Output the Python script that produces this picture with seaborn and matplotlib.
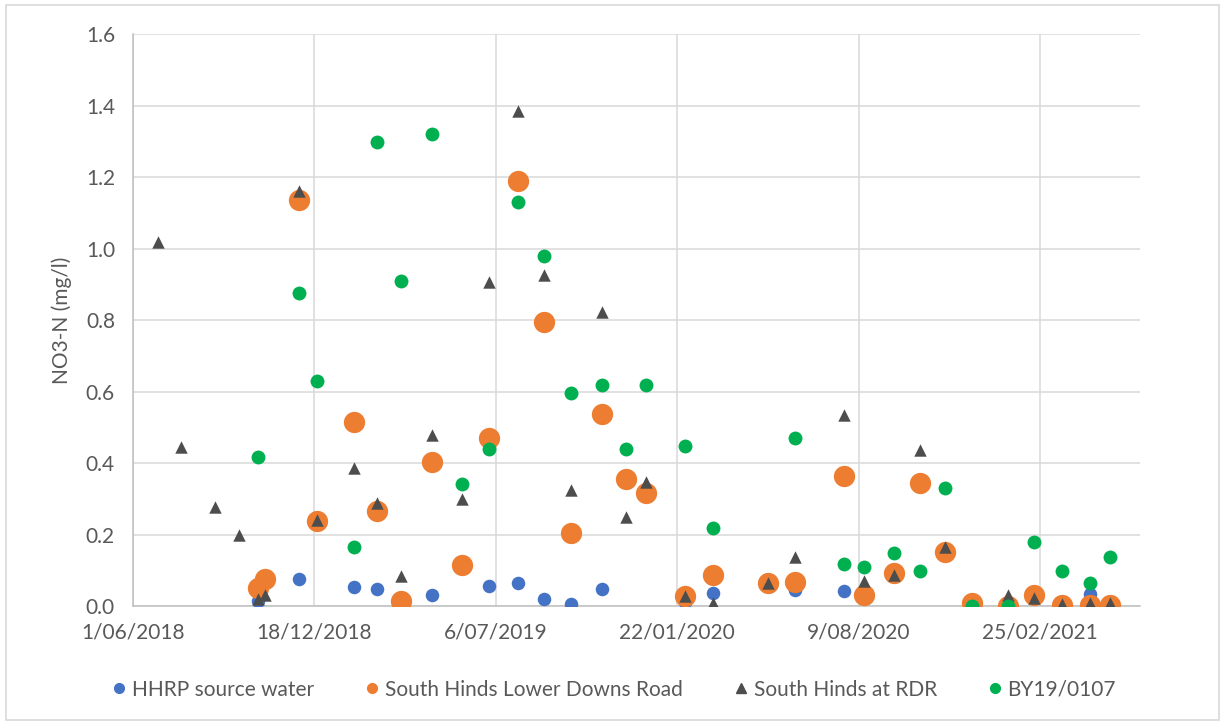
import pandas as pd
import numpy as np
import matplotlib
matplotlib.use("Agg")
import matplotlib.pyplot as plt
from matplotlib.lines import Line2D
from matplotlib.patches import Rectangle
import seaborn as sns

# sampling dates and NO3-N (mg/l) values
hhrp_dates = ["2018-10-17", "2018-12-01", "2019-01-31", "2019-02-25", "2019-04-27",
              "2019-06-28", "2019-07-30", "2019-08-28", "2019-09-27", "2019-10-31",
              "2020-01-31", "2020-03-01", "2020-05-31", "2020-07-24", "2021-04-21"]
hhrp_vals = [0.015, 0.075, 0.054, 0.047, 0.032, 0.056, 0.064, 0.020, 0.006, 0.047,
             0.011, 0.036, 0.045, 0.042, 0.035]

ldr_dates = ["2018-10-17", "2018-10-25", "2018-12-01", "2018-12-21", "2019-01-31",
             "2019-02-25", "2019-03-23", "2019-04-27", "2019-05-30", "2019-06-28",
             "2019-07-30", "2019-08-28", "2019-09-27", "2019-10-31", "2019-11-26",
             "2019-12-19", "2020-01-31", "2020-03-01", "2020-05-01", "2020-05-31",
             "2020-07-24", "2020-08-15", "2020-09-17", "2020-10-16", "2020-11-12",
             "2020-12-12", "2021-01-21", "2021-02-18", "2021-03-21", "2021-04-21",
             "2021-05-13"]
ldr_vals = [0.052, 0.075, 1.137, 0.238, 0.516, 0.267, 0.015, 0.404, 0.115, 0.470,
            1.188, 0.796, 0.205, 0.538, 0.356, 0.316, 0.028, 0.087, 0.065, 0.067,
            0.365, 0.032, 0.092, 0.344, 0.152, 0.008, 0.000, 0.030, 0.003, 0.003,
            0.003]

rdr_dates = ["2018-06-28", "2018-07-24", "2018-08-30", "2018-09-26", "2018-10-17",
             "2018-10-25", "2018-12-01", "2018-12-21", "2019-01-31", "2019-02-25",
             "2019-03-23", "2019-04-27", "2019-05-30", "2019-06-28", "2019-07-30",
             "2019-08-28", "2019-09-27", "2019-10-31", "2019-11-26", "2019-12-19",
             "2020-01-31", "2020-03-01", "2020-05-01", "2020-05-31", "2020-07-24",
             "2020-08-15", "2020-09-17", "2020-10-16", "2020-11-12", "2021-01-21",
             "2021-02-18", "2021-03-21", "2021-04-21", "2021-05-13"]
rdr_vals = [1.020, 0.446, 0.277, 0.198, 0.020, 0.030, 1.160, 0.240, 0.387, 0.290,
            0.084, 0.479, 0.300, 0.908, 1.384, 0.925, 0.325, 0.824, 0.249, 0.348,
            0.028, 0.010, 0.065, 0.137, 0.535, 0.070, 0.087, 0.437, 0.166, 0.030,
            0.022, 0.005, 0.008, 0.008]

by_dates = ["2018-10-17", "2018-12-01", "2018-12-21", "2019-01-31", "2019-02-25",
            "2019-03-23", "2019-04-27", "2019-05-30", "2019-06-28", "2019-07-30",
            "2019-08-28", "2019-09-27", "2019-10-31", "2019-11-26", "2019-12-19",
            "2020-01-31", "2020-03-01", "2020-05-31", "2020-07-24", "2020-08-15",
            "2020-09-17", "2020-10-16", "2020-11-12", "2020-12-12", "2021-01-21",
            "2021-02-18", "2021-03-21", "2021-04-21", "2021-05-13"]
by_vals = [0.417, 0.877, 0.630, 0.166, 1.297, 0.910, 1.320, 0.342, 0.440, 1.130,
           0.980, 0.597, 0.619, 0.440, 0.619, 0.448, 0.218, 0.470, 0.118, 0.110,
           0.150, 0.098, 0.330, 0.000, 0.000, 0.180, 0.098, 0.065, 0.137]

series_names = ["HHRP source water", "South Hinds Lower Downs Road",
                "South Hinds at RDR", "BY19/0107"]
tick_dates = ["2018-06-01", "2018-12-18", "2019-07-06", "2020-01-22",
              "2020-08-09", "2021-02-25"]

# series in Excel drawing order: blue, orange, grey, green
series = [
    (series_names[0], hhrp_dates, hhrp_vals, "#4472C4", "o", 95),
    (series_names[1], ldr_dates, ldr_vals, "#ED7D31", "o", 235),
    (series_names[2], rdr_dates, rdr_vals, "#4D4D4D", "^", 80),
    (series_names[3], by_dates, by_vals, "#00B050", "o", 100),
]

sns.set_style("white")
plt.rcParams["font.family"] = ["Lato", "DejaVu Sans"]

fig = plt.figure(figsize=(12.25, 7.26), dpi=100)
ax = fig.add_axes([0.1086, 0.165, 0.8220, 0.788])

for name, d, v, col, mk, sz in series:
    df = pd.DataFrame({"date": pd.to_datetime(d), "val": v})
    sns.scatterplot(data=df, x="date", y="val", ax=ax, color=col, marker=mk,
                    s=sz, linewidth=0, zorder=3)

ax.set_ylim(0, 1.6)
ax.set_yticks(np.arange(0, 1.61, 0.2))
ax.yaxis.set_major_formatter(matplotlib.ticker.FormatStrFormatter("%.1f"))
ax.set_xlim(pd.Timestamp("2018-06-01"), pd.Timestamp("2021-06-15"))
ticks = pd.to_datetime(tick_dates)
ax.set_xticks(ticks)
ax.set_xticklabels([f"{t.day}/{t.month:02d}/{t.year}" for t in ticks])

ax.grid(True, color="#D9D9D9", linewidth=1.1, zorder=0)
ax.set_axisbelow(True)
for s in ["top", "right"]:
    ax.spines[s].set_visible(False)
for s in ["left", "bottom"]:
    ax.spines[s].set_color("#BFBFBF")
    ax.spines[s].set_linewidth(1.1)
ax.tick_params(axis="both", length=0, labelsize=15, labelcolor="#595959")
ax.tick_params(axis="y", pad=13)
ax.tick_params(axis="x", pad=12)
ax.set_xlabel("")
ax.set_ylabel("NO3-N (mg/l)", fontsize=15, color="#595959", labelpad=10)

handles = [Line2D([], [], linestyle="", marker=mk, color=col, markersize=7 if mk == "o" else 6.5)
           for _, _, _, col, mk, _ in series]
fig.legend(handles, series_names, loc="center", bbox_to_anchor=(0.5, 0.05), ncol=4,
           frameon=False, fontsize=15, labelcolor="#595959", handletextpad=0.1,
           columnspacing=2.3, handlelength=1.0)

fig.patches.append(Rectangle((0.005, 0.008), 0.99, 0.985, transform=fig.transFigure,
                             fill=False, edgecolor="#D9D9D9", linewidth=1.2))

fig.savefig("out.png", dpi=100)
